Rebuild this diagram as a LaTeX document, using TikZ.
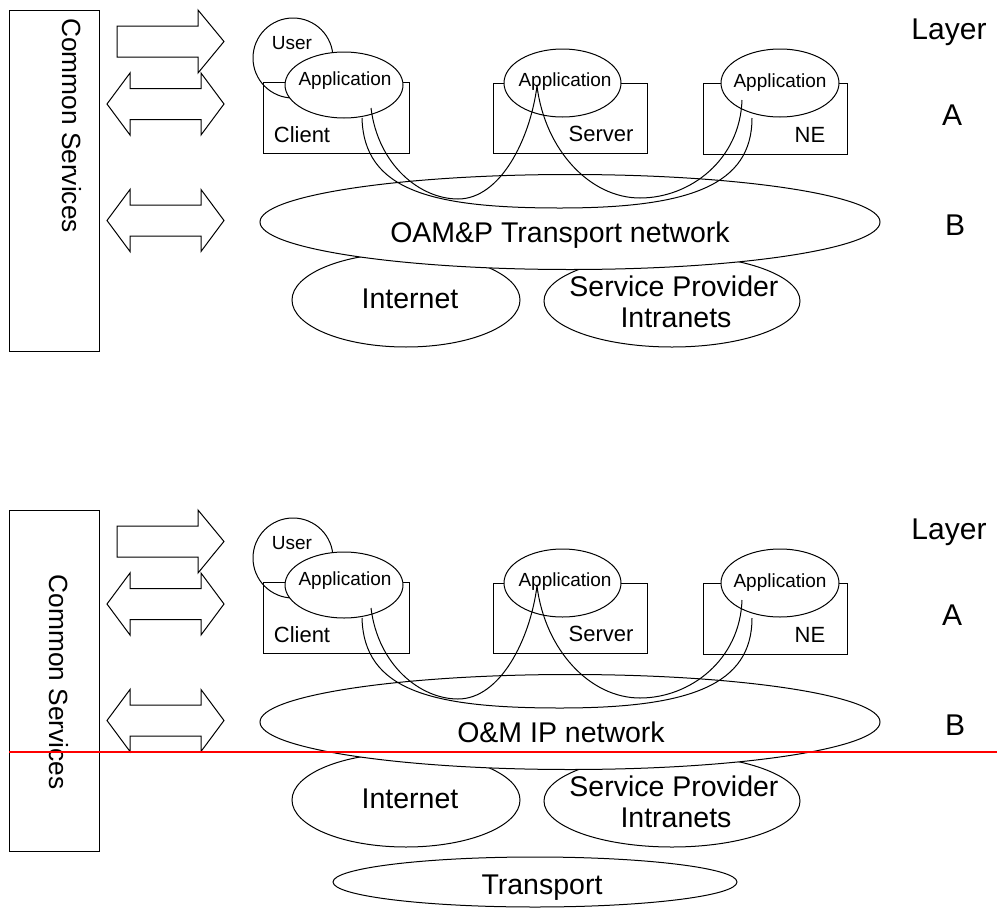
\documentclass[tikz,border=0pt]{standalone}
\usepackage{fontspec}
\setmainfont{Liberation Sans}
\usetikzlibrary{shapes.geometric}
\newcommand\fsz[1]{\fontsize{#1}{#1}\selectfont}
\begin{document}
\begin{tikzpicture}[x=1pt,y=-1pt,line width=1pt,line join=miter,
  ell/.style={ellipse,draw,inner sep=0pt,fill=white},
  box/.style={draw,inner sep=0pt,anchor=north west},
  txt/.style={inner sep=0pt,anchor=base},
  dblarrow/.pic={\draw[fill=white] (-58.5,0) -- (-35.5,-31) -- (-35.5,-15.5) -- (35.5,-15.5) -- (35.5,-31) -- (58.5,0) -- (35.5,31) -- (35.5,15.5) -- (-35.5,15.5) -- (-35.5,31) -- cycle;}]
\useasboundingbox (0,0) rectangle (997,908);

\foreach \p/\dy/\net/\nx in {t/0/{OAM\&P Transport network}/560, b/500/{O\&M IP network}/561} {
\begin{scope}[yshift=-\dy pt]
  % common services box
  \node[box,minimum width=90,minimum height=341] (cs\p) at (9,10) {};
  % block arrows
  \draw[fill=white] (117,26) -- (198,26) -- (198,10) -- (224,41.5) -- (198,73) -- (198,57) -- (117,57) -- cycle;
  \pic at (165.5,104) {dblarrow};
  \pic at (165.5,220.5) {dblarrow};
  % user, boxes
  \node[circle,draw,minimum size=80,inner sep=0pt] (user\p) at (293,58) {};
  \node[box,minimum width=146,minimum height=71] (client\p) at (263,82) {};
  \node[box,minimum width=154,minimum height=70] (server\p) at (493,83) {};
  \node[box,minimum width=144,minimum height=71] (ne\p) at (703,83) {};
  \node[ell,minimum width=118,minimum height=66] (appc\p) at (344,85) {};
  \node[ell,minimum width=117,minimum height=68] (apps\p) at (562.5,83) {};
  \node[ell,minimum width=118,minimum height=68] (appn\p) at (780,83) {};
  \node[txt,font=\fsz{19}] (tuser\p) at (292,49) {User};
  \node[txt,font=\fsz{19}] (tappc\p) at (345,85) {Application};
  \node[txt,font=\fsz{19}] (tapps\p) at (565,86) {Application};
  \node[txt,font=\fsz{19}] (tappn\p) at (780,87) {Application};
  \node[txt,font=\fsz{22}] (tclient\p) at (302,142) {Client};
  \node[txt,font=\fsz{22}] (tserver\p) at (601,141) {Server};
  \node[txt,font=\fsz{22}] (tne\p) at (810,142) {NE};
  % layer labels
  \node[txt,font=\fsz{30}] (layer\p) at (949,39) {Layer};
  \node[txt,font=\fsz{30}] (la\p) at (952,125) {A};
  \node[txt,font=\fsz{30}] (lb\p) at (955,235) {B};
  % lower networks
  \node[ell,minimum width=228,minimum height=94] (inet\p) at (406,300) {};
  \node[ell,minimum width=256,minimum height=92] (sp\p) at (672,301) {};
  \node[txt,font=\fsz{28.5}] (tinet\p) at (410,308) {Internet};
  \node[txt,font=\fsz{28.5}] (tsp\p) at (674,296) {Service Provider};
  \node[txt,font=\fsz{28.5}] (tspi\p) at (676,327) {Intranets};
  % main network
  \node[ell,minimum width=620,minimum height=95] (net\p) at (570,222) {};
  \node[txt,font=\fsz{28.5}] (tnet\p) at (\nx,242) {\net};
  % tube connectors
  \coordinate (a1\p) at (371,108);
  \coordinate (b1\p) at (362,118);
  \coordinate (cusp\p) at (537,86);
  \coordinate (c2\p) at (742,100);
  \coordinate (b2\p) at (752,118);
  \draw (a1\p) .. controls (378,165) and (420,199) .. (458,199) .. controls (500,199) and (530,140) .. (cusp\p);
  \draw (cusp\p) .. controls (545,150) and (590,198) .. (640,198) .. controls (690,198) and (740,160) .. (c2\p);
  \draw (b1\p) .. controls (364,190) and (430,208) .. (560,208) .. controls (690,208) and (752,185) .. (b2\p);
\end{scope}
}
\node[txt,font=\fsz{26.3},rotate=-90] (cstt) at (62.5,125.5) {Common Services};
\node[txt,font=\fsz{26.3},rotate=-90] (cstb) at (49,682) {Common Services};
% transport
\node[ell,minimum width=404,minimum height=50] (transp) at (535,882) {};
\node[txt,font=\fsz{28.5}] (ttransp) at (542,894) {Transport};
% red line
\draw[red,line width=1.6pt] (9,752) -- (997,752);
\end{tikzpicture}
\end{document}
